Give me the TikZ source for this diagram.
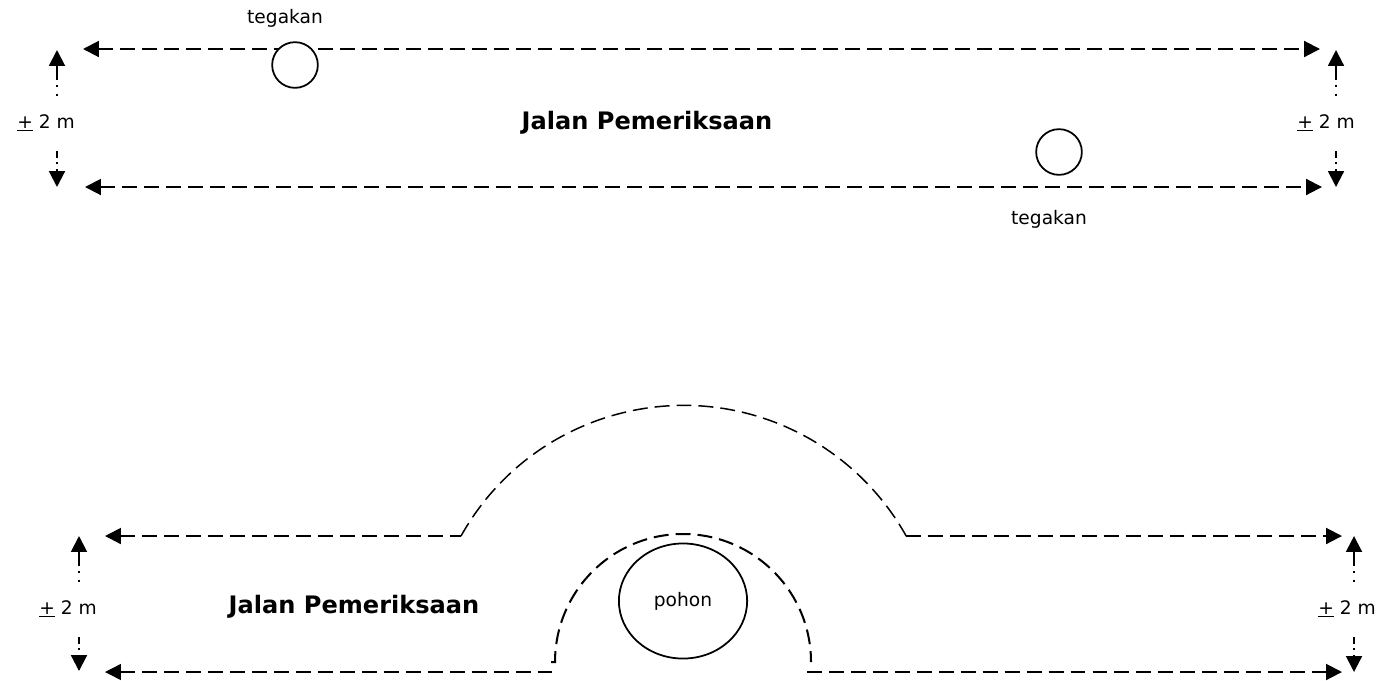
\documentclass[tikz,border=0pt]{standalone}
\usepackage{fontspec}
\setmainfont{DejaVu Sans}
\usetikzlibrary{positioning,arrows.meta,shapes.geometric}

\tikzset{
  roadline/.style={line width=1.15pt,dash pattern=on 8.5pt off 4pt},
  thinroad/.style={line width=0.85pt,dash pattern=on 8.5pt off 4pt},
  tipboth/.style={{Triangle[length=9pt,width=9pt]}-{Triangle[length=9pt,width=9pt]}},
  tipstart/.style={{Triangle[length=9pt,width=9pt]}-},
  tipend/.style={-{Triangle[length=9pt,width=9pt]}},
  uparrow/.style={tipstart,line width=1.15pt,dash pattern=on 8.5pt off 2.8pt on 1.2pt off 3.6pt on 1.2pt off 40pt},
  downarrow/.style={tipend,line width=1.15pt,dash pattern=on 0pt off 11pt on 3.5pt off 2.5pt on 1.2pt off 3pt on 20pt},
  tree/.style={circle,draw,line width=1pt,fill=white,minimum size=26pt,inner sep=0pt},
  plain/.style={font=\fontsize{10.6}{12}\selectfont,inner sep=0pt},
  roadname/.style={font=\fontsize{13.7}{15}\selectfont\bfseries,inner sep=0pt}
}
\newcommand{\widthlabel}{\underline{+} 2 m}

\begin{document}
\begin{tikzpicture}[x=0.02cm,y=-0.02cm]
\useasboundingbox (0,0) rectangle (1391,680);

% Straight road
\coordinate (tl) at (83,49);
\coordinate (tr) at (1320,49);
\coordinate (bl) at (85,187);
\coordinate (br) at (1322,187);
\draw[roadline,tipboth] (tl) -- (tr);
\draw[roadline,tipboth] (bl) -- (br);

\node[tree] (t1) at (295,65) {};
\node[tree] (t2) at (1059,152) {};
\node[plain] (t1txt) at (285,18) {tegakan};
\node[plain] (t2txt) at (1049,219) {tegakan};
\node[roadname] (road1) at (647,123) {Jalan Pemeriksaan};

\node[plain] (w1) at (46,123) {\widthlabel};
\node[plain] (w2) at (1326,123) {\widthlabel};
\coordinate (w1top) at (57,50);
\coordinate (w1bot) at (57,187);
\coordinate (w2top) at (1336,50);
\coordinate (w2bot) at (1336,187);
\draw[uparrow] (w1top) -- (w1top |- w1.north);
\draw[downarrow] (w1bot |- w1.south) -- (w1bot);
\draw[uparrow] (w2top) -- (w2top |- w2.north);
\draw[downarrow] (w2bot |- w2.south) -- (w2bot);

% Road around the tree
\coordinate (ul) at (105,536);
\coordinate (ua) at (461,536);
\coordinate (ub) at (906,536);
\coordinate (ur) at (1342,536);
\coordinate (ll) at (105,672);
\coordinate (la) at (552,672);
\coordinate (lb) at (807,672);
\coordinate (lr) at (1342,672);
\coordinate (hook) at (551,662);
\coordinate (ia) at (555,662);

\draw[roadline,tipstart] (ul) -- (ua);
\draw[roadline,tipend] (ub) -- (ur);
\draw[thinroad] (ua) arc[start angle=-150.8,end angle=-29.2,radius=255];
\draw[thinroad,tipstart] (ll) -- (la);
\draw[roadline,tipend] (lb) -- (lr);
\draw[roadline] (hook) -- (ia) arc[start angle=-180,end angle=0,radius=128];

\node[ellipse,draw,line width=1pt,minimum width=73pt,minimum height=65.5pt,inner sep=0pt,font=\fontsize{10.6}{12}\selectfont] (tree) at (683,601) {pohon};
\node[roadname] (road2) at (354,607) {Jalan Pemeriksaan};

\node[plain] (w3) at (68,609) {\widthlabel};
\node[plain] (w4) at (1347,609) {\widthlabel};
\coordinate (w3top) at (79,536);
\coordinate (w3bot) at (79,671);
\coordinate (w4top) at (1354,536);
\coordinate (w4bot) at (1354,672);
\draw[uparrow] (w3top) -- (w3top |- w3.north);
\draw[downarrow] (w3bot |- w3.south) -- (w3bot);
\draw[uparrow] (w4top) -- (w4top |- w4.north);
\draw[downarrow] (w4bot |- w4.south) -- (w4bot);
\end{tikzpicture}
\end{document}
